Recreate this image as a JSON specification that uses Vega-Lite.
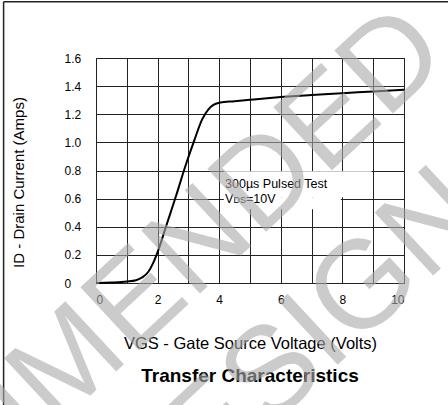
{
  "$schema": "https://vega.github.io/schema/vega-lite/v6.json",
  "width": 308,
  "height": 225,
  "autosize": "none",
  "padding": {"left": 96, "top": 58, "right": 44, "bottom": 122},
  "background": "white",
  "config": {
    "font": "Liberation Sans",
    "view": {"stroke": "#000", "strokeWidth": 1}
  },
  "encoding": {
    "x": {
      "field": "x", "type": "quantitative",
      "scale": {"domain": [0, 10], "nice": false, "zero": false},
      "axis": {
        "grid": true, "gridColor": "#222", "gridOpacity": 1, "gridWidth": 1,
        "domain": false, "ticks": false, "labelOverlap": false,
        "values": [0, 1, 2, 3, 4, 5, 6, 7, 8, 9, 10],
        "labelExpr": "datum.value % 2 === 0 ? datum.label : ''",
        "labelPadding": 11, "labelFontSize": 12, "labelColor": "#000",
        "title": "VGS - Gate Source Voltage (Volts)",
        "titleFontSize": 16.5, "titleFontWeight": "normal", "titleColor": "#000",
        "titleBaseline": "alphabetic", "titleY": 65
      }
    },
    "y": {
      "field": "y", "type": "quantitative",
      "scale": {"domain": [0, 1.6], "nice": false},
      "axis": {
        "grid": true, "gridColor": "#222", "gridOpacity": 1, "gridWidth": 1,
        "domain": false, "ticks": false, "labelOverlap": false,
        "values": [0, 0.2, 0.4, 0.6, 0.8, 1.0, 1.2, 1.4, 1.6],
        "labelExpr": "datum.value === 0 ? '0' : format(datum.value, '.1f')",
        "labelAlign": "left", "labelPadding": 32, "labelFontSize": 12, "labelColor": "#000",
        "title": "ID - Drain Current (Amps)",
        "titleFontSize": 15, "titleFontWeight": "normal", "titleColor": "#000",
        "titleAngle": -90, "titleX": -78, "titleY": 124,
        "titleAlign": "center", "titleBaseline": "middle"
      }
    }
  },
  "layer": [
    {
      "data": {"values": [
        {"x": 0, "y": 0}, {"x": 0.5, "y": 0.003}, {"x": 1.0, "y": 0.01},
        {"x": 1.3, "y": 0.02}, {"x": 1.5, "y": 0.04}, {"x": 1.7, "y": 0.08},
        {"x": 1.85, "y": 0.14}, {"x": 2.0, "y": 0.22}, {"x": 2.3, "y": 0.42},
        {"x": 2.6, "y": 0.62}, {"x": 2.9, "y": 0.83}, {"x": 3.2, "y": 1.02},
        {"x": 3.45, "y": 1.165}, {"x": 3.65, "y": 1.235}, {"x": 3.8, "y": 1.265},
        {"x": 4.0, "y": 1.282}, {"x": 4.5, "y": 1.293}, {"x": 5.0, "y": 1.303},
        {"x": 6.0, "y": 1.322}, {"x": 7.0, "y": 1.337}, {"x": 8.0, "y": 1.35},
        {"x": 9.0, "y": 1.362}, {"x": 10.0, "y": 1.375}
      ]},
      "mark": {"type": "line", "color": "#000", "strokeWidth": 2, "interpolate": "monotone"}
    },
    {
      "data": {"values": [
        {"x": 4.15, "x2": 8.95, "y": 0.61, "y2": 0.795},
        {"x": 4.15, "x2": 7.95, "y": 0.525, "y2": 0.61}
      ]},
      "mark": {"type": "rect", "color": "white", "strokeWidth": 0},
      "encoding": {
        "x2": {"field": "x2"},
        "y2": {"field": "y2"}
      }
    },
    {
      "data": {"values": [
        {"x": 4.19, "y": 0.678, "t": "300µs Pulsed Test"},
        {"x": 4.19, "y": 0.571, "t": "V"}
      ]},
      "mark": {"type": "text", "align": "left", "baseline": "alphabetic", "fontSize": 12.5, "color": "#000", "font": "Liberation Sans"},
      "encoding": {"text": {"field": "t"}}
    },
    {
      "data": {"values": [{"x": 4.19, "y": 0.571, "t": "DS"}]},
      "mark": {"type": "text", "align": "left", "baseline": "alphabetic", "fontSize": 9, "dx": 8.5, "color": "#000", "font": "Liberation Sans"},
      "encoding": {"text": {"field": "t"}}
    },
    {
      "data": {"values": [{"x": 4.19, "y": 0.571, "t": "=10V"}]},
      "mark": {"type": "text", "align": "left", "baseline": "alphabetic", "fontSize": 12.5, "dx": 21, "color": "#000", "font": "Liberation Sans"},
      "encoding": {"text": {"field": "t"}}
    },
    {
      "data": {"values": [{"x": 5.0, "y": -0.704, "t": "Transfer Characteristics"}]},
      "mark": {"type": "text", "align": "center", "baseline": "alphabetic", "fontSize": 19, "fontWeight": "bold", "color": "#000", "font": "Liberation Sans"},
      "encoding": {"text": {"field": "t"}}
    },
    {
      "data": {"values": [
        {"x": -3.0, "x2": 11.6, "y": 2.0, "y2": 2.0},
        {"x": -3.0, "x2": -3.0, "y": 2.0, "y2": -0.9}
      ]},
      "mark": {"type": "rule", "color": "#222", "strokeWidth": 1.5},
      "encoding": {
        "x2": {"field": "x2"},
        "y2": {"field": "y2"}
      }
    },
    {
      "data": {"values": [
        {"x": 11.542, "y": 1.594, "t": "RECOMMENDED"},
        {"x": 12.847, "y": 0.441, "t": "DESIGN"}
      ]},
      "mark": {"type": "text", "align": "right", "baseline": "alphabetic", "fontSize": 125, "angle": -43, "color": "#aaaaaa", "opacity": 0.6, "font": "Liberation Sans"},
      "encoding": {"text": {"field": "t"}}
    }
  ]
}
